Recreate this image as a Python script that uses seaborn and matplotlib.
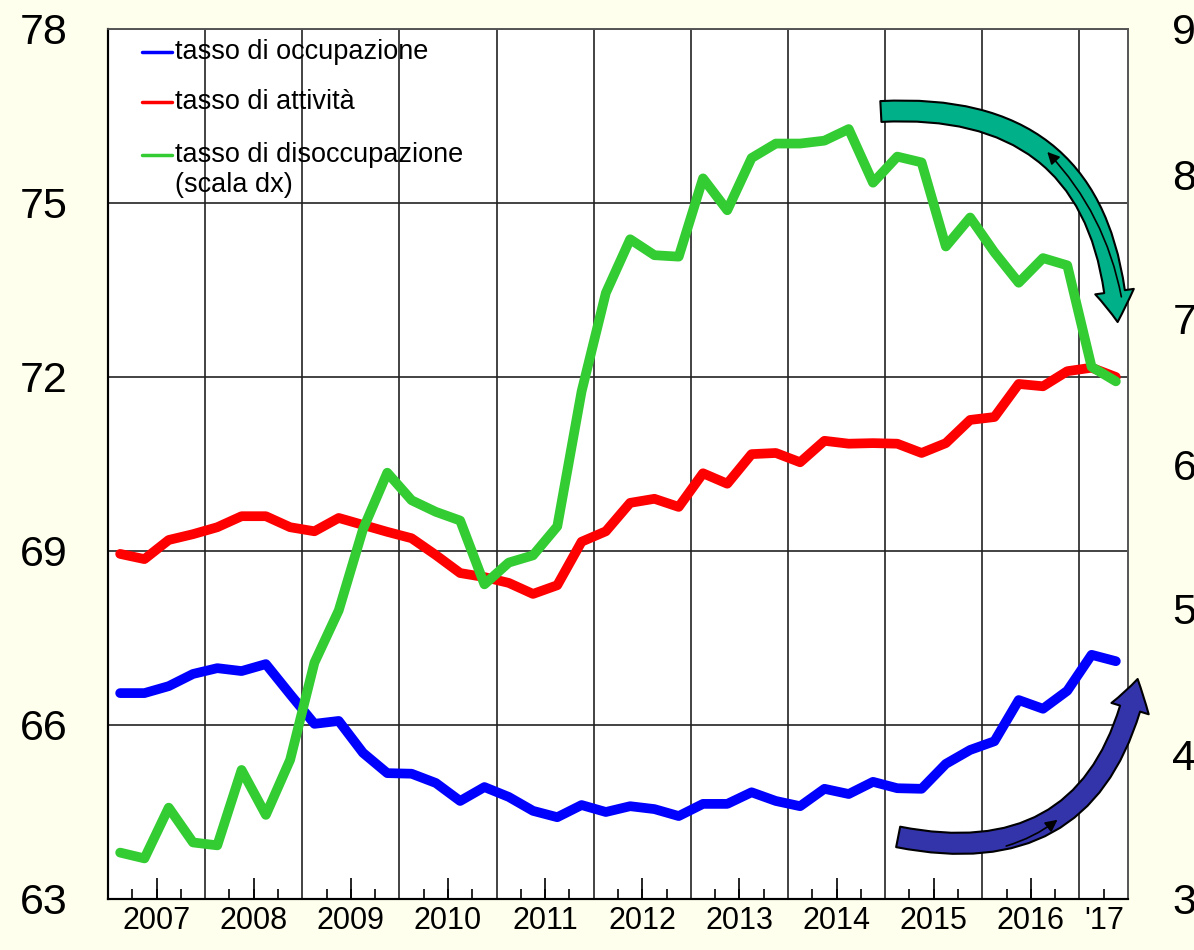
import matplotlib
matplotlib.use('Agg')  # no display
import matplotlib.pyplot as plt
from matplotlib.lines import Line2D
from matplotlib.patches import FancyArrowPatch
import seaborn as sns
import pandas as pd

# quarterly data 2007Q1 - 2017Q2
quarters = [f'{y}Q{q}' for y in range(2007, 2018) for q in range(1, 5)][:42]
occupazione = [66.55, 66.55, 66.67, 66.88, 66.98, 66.93, 67.05, 66.53, 66.02, 66.07,
               65.52, 65.17, 65.16, 65.00, 64.69, 64.93, 64.76, 64.52, 64.41, 64.62,
               64.50, 64.60, 64.55, 64.43, 64.64, 64.64, 64.84, 64.69, 64.60, 64.90,
               64.81, 65.02, 64.91, 64.90, 65.33, 65.57, 65.72, 66.43, 66.28, 66.59,
               67.21, 67.10]
attivita = [68.95, 68.86, 69.19, 69.29, 69.41, 69.60, 69.60, 69.41, 69.34, 69.57,
            69.45, 69.33, 69.22, 68.93, 68.62, 68.55, 68.45, 68.26, 68.41, 69.16,
            69.34, 69.83, 69.90, 69.76, 70.34, 70.16, 70.67, 70.69, 70.53, 70.90,
            70.85, 70.86, 70.85, 70.69, 70.86, 71.26, 71.31, 71.88, 71.84, 72.10,
            72.16, 72.00]
disoccupazione = [3.32, 3.28, 3.63, 3.39, 3.37, 3.89, 3.58, 3.96, 4.63, 4.99,
                  5.55, 5.94, 5.75, 5.67, 5.61, 5.17, 5.32, 5.37, 5.57, 6.50,
                  7.18, 7.55, 7.44, 7.43, 7.97, 7.75, 8.11, 8.21, 8.21, 8.23,
                  8.31, 7.94, 8.12, 8.08, 7.50, 7.70, 7.46, 7.25, 7.42, 7.37,
                  6.67, 6.57]
year_labels = ['2007', '2008', '2009', '2010', '2011', '2012', '2013', '2014', '2015', '2016', "'17"]
left_ticks = [63, 66, 69, 72, 75, 78]
right_ticks = [3, 4, 5, 6, 7, 8, 9]

df = pd.DataFrame({'quarter': quarters, 'occ': occupazione, 'att': attivita, 'dis': disoccupazione})
df['x'] = df['quarter'].str[:4].astype(int) + (df['quarter'].str[-1].astype(int) - 0.5) / 4  # mid-quarter position

sns.set_theme(style='white')
plt.rcParams['font.family'] = ['Liberation Sans', 'DejaVu Sans']

bg = '#FFFFEE'
fig = plt.figure(figsize=(11.94, 9.5), dpi=100, facecolor=bg)
ax = fig.add_axes([108 / 1194, 51 / 950, 1020 / 1194, 870 / 950])
ax.set_facecolor('white')

sns.lineplot(data=df, x='x', y='occ', color='#0000FF', lw=7, ax=ax)
sns.lineplot(data=df, x='x', y='att', color='#FF0000', lw=7, ax=ax)

ax2 = ax.twinx()
sns.lineplot(data=df, x='x', y='dis', color='#33CC33', lw=7, ax=ax2)

# x axis: year gridlines, quarter ticks, year labels at midpoints
ax.set_xlim(2007, 2017.5)
ax.set_xticks(list(range(2007, 2018)))
ax.tick_params(axis='x', which='major', length=0, labelbottom=False)
qticks = [y + q for y in range(2007, 2017) for q in (0.25, 0.5, 0.75)] + [2017.25]
ax.set_xticks(qticks, minor=True)
ax.tick_params(axis='x', which='minor', direction='in', length=7, width=1.2, color='black', bottom=True)
ax.grid(True, axis='x', which='major', color='#222222', lw=1.2)

sec = ax.secondary_xaxis('bottom')
sec.xaxis.remove_overlapping_locs = False  # keep labels that sit on the half-year ticks
sec.set_xticks([y + 0.5 for y in range(2007, 2017)])
sec.tick_params(which='major', direction='in', length=15, width=1.2, color='black', labelbottom=False)
label_pos = [y + 0.5 for y in range(2007, 2017)] + [2017.25]
sec.set_xticks(label_pos, labels=year_labels, minor=True)
sec.tick_params(which='minor', length=0, pad=5, labelsize=22, labelcolor='black')
sec.spines['bottom'].set_visible(False)

# left axis
ax.set_ylim(63, 78)
ax.set_yticks(left_ticks)
ax.tick_params(axis='y', length=0, pad=29, labelsize=31, labelcolor='black')
ax.grid(True, axis='y', color='#222222', lw=1.2)
ax.set_xlabel('')
ax.set_ylabel('')

# right axis
ax2.set_ylim(3, 9)
ax2.set_yticks(right_ticks)
ax2.tick_params(axis='y', length=0, pad=32, labelsize=31, labelcolor='black')
ax2.set_ylabel('')
ax2.set_xlabel('')

for a in (ax, ax2):
    for side in ('left', 'bottom'):
        a.spines[side].set_color('black')
        a.spines[side].set_linewidth(1.5)
    for side in ('top', 'right'):
        a.spines[side].set_color('#555555')
        a.spines[side].set_linewidth(1.2)

# legend drawn by hand so the green key sits on the first text line
legend_colors = ['#0000FF', '#FF0000', '#33CC33']
legend_labels = ['tasso di occupazione', 'tasso di attività', 'tasso di disoccupazione']
legend_y = [0.9736, 0.9161, 0.8552]
for col, lab, ly in zip(legend_colors, legend_labels, legend_y):
    ax2.add_line(Line2D([0.033, 0.063], [ly, ly], color=col, lw=2.5, transform=ax2.transAxes))
    ax2.text(0.0655, ly, lab, transform=ax2.transAxes, fontsize=19.5, color='black', va='center', ha='left')
ax2.text(0.0655, 0.8207, '(scala dx)', transform=ax2.transAxes, fontsize=19.5, color='black', va='center', ha='left')

# curved block arrows
teal = FancyArrowPatch((0.755, 0.905), (0.990, 0.660), transform=ax2.transAxes,
                       connectionstyle='arc3,rad=-0.5',
                       arrowstyle='simple,head_length=1.1,head_width=1.4,tail_width=0.75',
                       mutation_scale=20, fc='#00B088', ec='black', lw=1.5, clip_on=False, zorder=10)
ax2.add_patch(teal)
teal_thin = FancyArrowPatch((0.994, 0.689), (0.919, 0.861), transform=ax2.transAxes,
                            connectionstyle='arc3,rad=0.15', arrowstyle='-|>',
                            mutation_scale=18, color='black', lw=1.2, clip_on=False, zorder=11)
ax2.add_patch(teal_thin)

blue = FancyArrowPatch((0.772, 0.072), (1.010, 0.256), transform=ax2.transAxes,
                       connectionstyle='arc3,rad=0.5',
                       arrowstyle='simple,head_length=1.1,head_width=1.4,tail_width=0.75',
                       mutation_scale=20, fc='#3333AA', ec='black', lw=1.5, clip_on=False, zorder=10)
ax2.add_patch(blue)
blue_thin = FancyArrowPatch((0.878, 0.060), (0.933, 0.093), transform=ax2.transAxes,
                            connectionstyle='arc3,rad=0.1', arrowstyle='-|>',
                            mutation_scale=18, color='black', lw=1.2, clip_on=False, zorder=11)
ax2.add_patch(blue_thin)

plt.savefig('out.png', dpi=100, facecolor=bg)
plt.close()
